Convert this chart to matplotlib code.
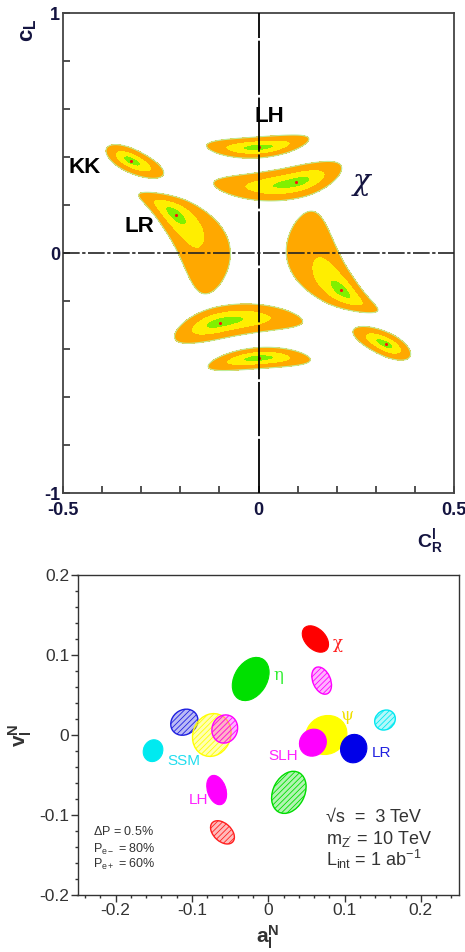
import numpy as np
import matplotlib
matplotlib.use("Agg")
import matplotlib.pyplot as plt
from matplotlib.patches import Ellipse

plt.rcParams['font.family'] = ['Liberation Sans', 'DejaVu Sans']
plt.rcParams['mathtext.fontset'] = 'custom'
plt.rcParams['mathtext.rm'] = 'Liberation Sans'
plt.rcParams['mathtext.it'] = 'Liberation Sans:italic'
plt.rcParams['mathtext.bf'] = 'Liberation Sans:bold'
plt.rcParams['hatch.linewidth'] = 0.6

# ---- top panel: fit regions in the (c_R, c_L) plane ----
blob_names = ['LH', 'chi', 'KK', 'LR', 'LH_m', 'chi_m', 'KK_m', 'LR_m']
blob_x = [0.0, 0.096, -0.326, -0.211, 0.0, -0.098, 0.325, 0.210]
blob_y = [0.440, 0.295, 0.385, 0.158, -0.438, -0.290, -0.380, -0.154]
blob_angle = [4, 12, -25, -40, 184, 192, 155, 140]
blob_a_minus = [0.132, 0.207, 0.070, 0.107, 0.132, 0.207, 0.070, 0.107]
blob_a_plus = [0.130, 0.122, 0.090, 0.200, 0.130, 0.122, 0.090, 0.200]
blob_width = [0.027, 0.041, 0.030, 0.047, 0.027, 0.041, 0.030, 0.047]
blob_bend = [0.74, 0.92, 0.3, -1.7, 0.74, 0.92, 0.3, -1.7]
blob_spread = [0.0, 0.0, 0.0, 6.5, 0.0, 0.0, 0.0, 6.5]
blob_tail = [2.0, 2.0, 2.0, 1.35, 2.0, 2.0, 2.0, 1.35]

top_labels = ['LH', 'KK', 'LR', 'χ']
top_label_x = [0.028, -0.445, -0.304, 0.263]
top_label_y = [0.57, 0.358, 0.11, 0.296]

# ---- bottom panel: (a_l^N, v_l^N) ellipses ----
ell_x = [0.0618, -0.023, 0.070, -0.110, -0.074, -0.057, 0.076, 0.0585, 0.112, 0.153, -0.151, -0.0676, 0.027, -0.060]
ell_y = [0.120, 0.070, 0.068, 0.016, 0.000, 0.0075, 0.000, -0.0096, -0.017, 0.0187, -0.0196, -0.0688, -0.0717, -0.1217]
ell_major = [0.040, 0.059, 0.036, 0.037, 0.055, 0.036, 0.055, 0.036, 0.036, 0.028, 0.028, 0.038, 0.056, 0.036]
ell_minor = [0.026, 0.042, 0.023, 0.031, 0.049, 0.033, 0.048, 0.033, 0.034, 0.024, 0.025, 0.024, 0.041, 0.023]
ell_angle = [-42, 55, -65, 30, 60, 60, 20, 30, 60, 30, 60, -70, 60, -40]
ell_color = ['#ff0000', '#00e000', '#ff00ff', '#2020e0', '#ffff00', '#ff00ff', '#ffff00', '#ff00ff',
             '#0000e8', '#00e8f0', '#00eaf0', '#ff00ff', '#00dd00', '#ff2020']
ell_hatched = [False, False, True, True, True, True, False, False, False, True, False, False, True, True]

bot_labels = ['χ', 'η', 'ψ', 'LR', 'SLH', 'SSM', 'LH']
bot_label_x = [0.091, 0.013, 0.104, 0.148, 0.020, -0.111, -0.091]
bot_label_y = [0.114, 0.074, 0.025, -0.022, -0.026, -0.032, -0.081]
bot_label_color = ['#ff2020', '#33ee33', '#f0e000', '#2020e0', '#ff22ff', '#22ddee', '#ff22ff']

fig = plt.figure(figsize=(4.65, 9.52), dpi=100)
W, H = 465, 952
ax = fig.add_axes([63 / W, 1 - 493 / H, 391 / W, 480 / H])
ax.set_xlim(-0.5, 0.5)
ax.set_ylim(-1, 1)
ratio = (480 / 2) / 391.0

gx = np.linspace(-0.5, 0.5, 900)
gy = np.linspace(-1, 1, 1800)
X, Y = np.meshgrid(gx, gy)
field = np.full(X.shape, 99.0)
for i in range(len(blob_names)):
    th = np.radians(blob_angle[i])
    du = X - blob_x[i]
    dv = (Y - blob_y[i]) * ratio
    s = du * np.cos(th) + dv * np.sin(th)
    t = -du * np.sin(th) + dv * np.cos(th)
    t = t - blob_bend[i] * s ** 2
    a = np.where(s < 0, blob_a_minus[i], blob_a_plus[i])
    p = np.where(s < 0, 2.0, blob_tail[i])
    bw = blob_width[i] * np.exp(blob_spread[i] * s)
    chi = np.abs(s / a) ** p + (t / bw) ** 2
    field = np.minimum(field, chi)

ax.contourf(X, Y, field, levels=[0, 0.09, 0.4, 1.0],
            colors=['#80f000', '#ffee00', '#ffa800'], zorder=1)
ax.contour(X, Y, field, levels=[1.0], colors=['#c0ec98'], linewidths=0.8, zorder=1)
ax.scatter(blob_x, blob_y, s=5, color='#ff1010', zorder=3, linewidths=0)

ax.axvline(0, color='black', lw=1.3, dashes=(30, 1.5), zorder=4)
ax.axhline(0, color='#222222', lw=1.2, dashes=(10, 1.5, 2, 1.5), zorder=4)

ax.set_xticks([-0.5, 0, 0.5])
ax.set_xticklabels(['-0.5', '0', '0.5'])
ax.set_xticks(np.arange(-0.4, 0.45, 0.1), minor=True)
ax.set_yticks([-1, 0, 1])
ax.set_yticklabels(['-1', '0', '1'])
ax.set_yticks([-0.8, -0.6, -0.4, -0.2, 0.2, 0.4, 0.6, 0.8], minor=True)
ax.tick_params(which='both', direction='in', length=5, width=1.2, color='#333333')
ax.tick_params(axis='x', which='major', pad=6.5, labelsize=13, labelcolor='#141440')
ax.tick_params(axis='y', which='major', pad=2, labelsize=13, labelcolor='#141440')
for lab in ax.get_xticklabels() + ax.get_yticklabels():
    lab.set_fontweight('bold')
for sp in ax.spines.values():
    sp.set_color('#444444')
    sp.set_linewidth(1.3)

for txt, tx, ty in zip(top_labels, top_label_x, top_label_y):
    if txt == 'χ':
        ax.text(tx, ty, txt, fontsize=21, ha='center', va='center', color='#141440',
                family=['DejaVu Serif'], style='italic')
    else:
        ax.text(tx, ty, txt, fontsize=16, fontweight='bold', ha='center', va='center', color='black')

fig.text(28 / W, 1 - 30 / H, r'$\mathbf{c_L}$', rotation=90, fontsize=16, color='#141440',
         ha='center', va='center')
fig.text(430 / W, 1 - 542 / H, r'$\mathbf{C^l_R}$', fontsize=14, color='#141440',
         ha='center', va='center')

# ---- bottom panel ----
ax2 = fig.add_axes([77.5 / W, 1 - 895 / H, 381.5 / W, 320 / H])
ax2.set_xlim(-0.25, 0.25)
ax2.set_ylim(-0.2, 0.2)
for i in range(len(ell_x)):
    c = ell_color[i]
    if ell_hatched[i]:
        ax2.add_patch(Ellipse((ell_x[i], ell_y[i]), ell_major[i], ell_minor[i], angle=ell_angle[i],
                              facecolor=c, alpha=0.3, edgecolor='none'))
        ax2.add_patch(Ellipse((ell_x[i], ell_y[i]), ell_major[i], ell_minor[i], angle=ell_angle[i],
                              fill=False, edgecolor=c, hatch='//////', lw=1.0))
    else:
        ax2.add_patch(Ellipse((ell_x[i], ell_y[i]), ell_major[i], ell_minor[i], angle=ell_angle[i],
                              facecolor=c, edgecolor=c, lw=0.8))

for txt, tx, ty, c in zip(bot_labels, bot_label_x, bot_label_y, bot_label_color):
    if txt in ('χ', 'η', 'ψ'):
        ax2.text(tx, ty, txt, fontsize=12, color=c, ha='center', va='center', family=['DejaVu Serif'])
    else:
        ax2.text(tx, ty, txt, fontsize=11, color=c, ha='center', va='center')

ax2.text(-0.2296, -0.1205, r'$\Delta$P = 0.5%', fontsize=9, color='#333333', va='center')
ax2.text(-0.2296, -0.1425, r'P$_{\rm e-}$ = 80%', fontsize=9, color='#333333', va='center')
ax2.text(-0.2296, -0.162, r'P$_{\rm e+}$ = 60%', fontsize=9, color='#333333', va='center')
ax2.text(0.0762, -0.103, '√s  =  3 TeV', fontsize=13, color='#333333', va='center')
ax2.text(0.0762, -0.130, r"m$_{\rm Z'}$ = 10 TeV", fontsize=13, color='#333333', va='center')
ax2.text(0.0762, -0.156, r'L$_{\rm int}$ = 1 ab$^{-1}$', fontsize=13, color='#333333', va='center')

ax2.set_xticks([-0.2, -0.1, 0, 0.1, 0.2])
ax2.set_xticklabels(['-0.2', '-0.1', '0', '0.1', '0.2'])
ax2.set_yticks([-0.2, -0.1, 0, 0.1, 0.2])
ax2.set_yticklabels(['-0.2', '-0.1', '0', '0.1', '0.2'])
ax2.set_xticks(np.arange(-0.24, 0.25, 0.02), minor=True)
ax2.set_yticks(np.arange(-0.18, 0.19, 0.02), minor=True)
ax2.tick_params(which='major', direction='out', length=5, width=1, color='#333333',
                labelsize=12.5, labelcolor='#333333', pad=1)
ax2.tick_params(which='minor', direction='out', length=2.5, width=1, color='#333333')
for sp in ax2.spines.values():
    sp.set_color('#333333')
    sp.set_linewidth(1.0)

fig.text(268 / W, 1 - 937 / H, r'$\mathbf{a_l^N}$', fontsize=15, color='#333333', ha='center', va='center')
fig.text(20 / W, 1 - 735 / H, r'$\mathbf{v_l^N}$', rotation=90, fontsize=15, color='#333333',
         ha='center', va='center')

fig.savefig('out.png', dpi=100)
